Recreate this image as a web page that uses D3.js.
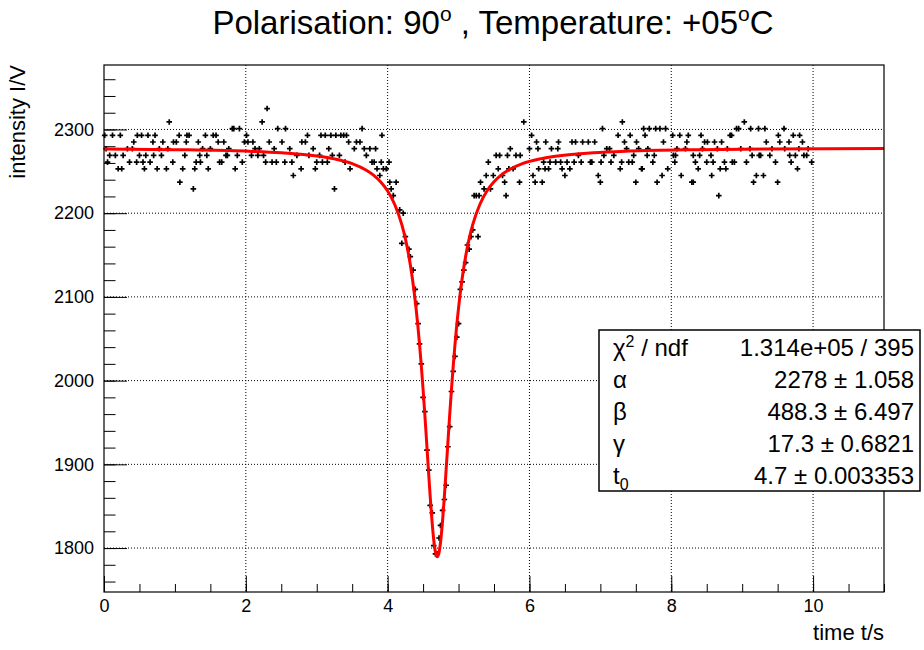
<!DOCTYPE html>
<html>
<head>
<meta charset="utf-8">
<script src="https://cdn.jsdelivr.net/npm/d3@7"></script>
<style>
body { margin: 0; background: #fff; }
svg text { font-family: "Liberation Sans", Arial, Helvetica, sans-serif; }
</style>
</head>
<body>
<script>
// ---------------------------------------------------------------------------
// Data
// ---------------------------------------------------------------------------
var xTicks = [0, 2, 4, 6, 8, 10];
var yTicks = [1800, 1900, 2000, 2100, 2200, 2300];

var statNames = ["chi", "alpha", "beta", "gamma", "t0"];
var statValues = ["1.314e+05 / 395", "2278 \u00b1 1.058", "488.3 \u00b1 6.497",
                  "17.3 \u00b1 0.6821", "4.7 \u00b1 0.003353"];

// fitted curve, sampled along the red line
var fitT = [0, 1, 2, 2.5, 3, 3.25, 3.5, 3.7, 3.8, 3.9, 4.0, 4.1, 4.2, 4.25,
            4.3, 4.35, 4.4, 4.425, 4.45, 4.475, 4.5, 4.525, 4.55, 4.575, 4.6,
            4.625, 4.65, 4.675, 4.7, 4.725, 4.75, 4.775, 4.8, 4.825, 4.85,
            4.875, 4.9, 4.925, 4.95, 4.975, 5.0, 5.05, 5.1, 5.15, 5.2, 5.3,
            5.4, 5.5, 5.6, 5.7, 5.9, 6.15, 6.4, 6.9, 7.4, 8.4, 9.4, 11];
var fitI = [2276.7, 2275.9, 2274.2, 2272.2, 2268.4, 2264.9, 2259.2, 2251.3,
            2245.5, 2237.5, 2226.5, 2210.4, 2186.3, 2169.6, 2148.4, 2121.4,
            2087.0, 2066.5, 2043.4, 2017.7, 1989.4, 1958.8, 1926.5, 1893.6,
            1861.7, 1833.0, 1809.9, 1794.9, 1789.7, 1794.9, 1809.9, 1833.0,
            1861.7, 1893.6, 1926.5, 1958.8, 1989.4, 2017.7, 2043.4, 2066.5,
            2087.0, 2121.4, 2148.4, 2169.6, 2186.3, 2210.4, 2226.5, 2237.5,
            2245.5, 2251.3, 2259.2, 2264.9, 2268.4, 2272.2, 2274.2, 2275.9,
            2276.7, 2277.3];

// measured points [time t/s, intensity I/V]
var measured = [
    // 0 - 1.65 s
    [0.92,2309],
    [0.01,2293],[0.12,2293],[0.23,2293],[0.47,2293],[0.53,2293],[0.62,2293],
    [0.72,2293],[1.06,2293],[1.17,2293],[1.20,2293],[1.43,2293],[1.54,2293],
    [1.58,2293],
    [0.42,2285],[0.69,2285],[0.83,2285],[0.98,2285],[1.02,2285],[1.16,2285],
    [1.33,2285],[1.61,2285],
    [0.03,2277],[0.33,2277],[0.40,2277],[0.78,2277],[0.90,2277],[1.39,2277],
    [1.50,2277],
    [0.08,2269],[0.16,2269],[0.27,2269],[0.50,2269],[0.59,2269],[0.70,2269],
    [0.81,2269],[1.14,2269],[1.35,2269],[1.45,2269],
    [0.05,2261],[0.36,2261],[0.46,2261],[0.55,2261],[0.65,2261],[0.97,2261],
    [1.30,2261],[1.36,2261],[1.63,2261],
    [0.20,2253],[0.25,2253],[0.57,2253],[0.75,2253],[0.88,2253],[1.11,2253],
    [1.28,2253],[1.47,2253],
    [1.07,2237],[1.26,2229],
    // 1.65 - 3.3 s
    [2.30,2325],[2.23,2309],
    [1.81,2301],[1.83,2301],[1.91,2301],[2.45,2301],[2.56,2301],
    [2.01,2293],[2.87,2293],[3.06,2293],[3.12,2293],[3.20,2293],[3.27,2293],
    [1.69,2285],[1.98,2285],[2.03,2285],[2.10,2285],[2.33,2285],[2.51,2285],
    [2.79,2285],[2.84,2285],
    [1.76,2277],[2.13,2277],[2.19,2277],[2.40,2277],[2.62,2277],[2.95,2277],
    [3.17,2277],
    [1.72,2269],[1.74,2269],[1.88,2269],[2.08,2269],[2.17,2269],[2.25,2269],
    [2.72,2269],[2.89,2269],[3.04,2269],[3.22,2269],
    [1.66,2261],[1.95,2261],[2.28,2261],[2.37,2261],[2.43,2261],[2.55,2261],
    [2.65,2261],[3.00,2261],[3.08,2261],[3.15,2261],
    [1.85,2253],[2.78,2253],[2.98,2253],
    [2.67,2245],[3.25,2229],
    // 3.3 - 4.2 s
    [3.64,2301],
    [3.34,2293],[3.38,2293],[3.42,2293],[3.92,2293],
    [3.45,2285],[3.56,2285],[3.61,2285],
    [3.53,2277],[3.67,2277],[3.75,2277],[3.83,2277],
    [3.32,2269],[3.70,2269],
    [3.40,2261],[3.78,2261],[3.81,2261],[3.91,2261],[4.02,2261],
    [3.47,2253],[3.85,2253],[3.94,2253],[3.98,2253],
    [3.89,2245],[4.03,2237],[4.12,2237],[4.05,2229],[4.08,2221],
    [4.17,2204],[4.22,2200],
    // dip
    [4.20,2164],[4.25,2172],[4.30,2157],[4.32,2148],[4.36,2132],[4.39,2109],
    [4.41,2092],[4.43,2068],[4.45,2044],[4.475,2020],[4.50,1980],[4.525,1963],
    [4.555,1917],[4.58,1893],[4.60,1851],[4.63,1842],[4.65,1803],[4.675,1793],
    [4.70,1793],[4.725,1812],[4.745,1827],[4.775,1845],[4.80,1858],
    [4.825,1875],[4.85,1921],[4.875,1945],[4.90,1987],[4.925,2011],
    [4.95,2029],[4.975,2052],[5.00,2068],[5.025,2109],[5.05,2118],
    [5.075,2132],[5.10,2141],[5.125,2162],[5.15,2157],[5.175,2172],
    [5.20,2180],[5.275,2172],
    // 5.2 - 6.7 s
    [5.92,2309],[6.03,2293],
    [6.10,2285],[6.23,2285],[6.41,2285],[6.60,2285],[6.65,2285],
    [5.73,2277],[6.00,2277],[6.12,2277],[6.31,2277],[6.40,2277],
    [5.53,2269],[5.58,2269],[5.69,2269],[5.81,2269],[5.87,2269],[6.69,2269],
    [5.42,2261],[6.20,2261],[6.29,2261],[6.37,2261],[6.44,2261],[6.53,2261],
    [6.63,2261],
    [5.56,2253],[5.71,2253],[5.77,2253],[6.13,2253],[6.22,2253],[6.27,2253],
    [6.46,2253],[6.57,2253],
    [5.39,2245],[5.49,2245],[5.62,2245],[6.05,2245],[6.50,2245],
    [5.31,2237],[5.65,2237],[5.86,2237],[6.08,2237],[6.18,2237],
    [5.36,2229],[5.45,2229],
    [5.22,2221],[5.25,2221],[5.29,2221],[5.67,2221],
    // 6.7 - 8.4 s
    [7.31,2309],
    [7.03,2301],[7.61,2301],[7.69,2301],[7.78,2301],[7.84,2301],[7.92,2301],
    [7.25,2293],[7.42,2293],[7.63,2293],[8.02,2293],[8.12,2293],[8.24,2293],
    [6.75,2285],[6.83,2285],[6.92,2285],[7.34,2285],[7.51,2285],[7.89,2285],
    [8.22,2285],
    [7.09,2277],[7.13,2277],[7.37,2277],[7.54,2277],[7.67,2277],[8.08,2277],
    [8.20,2277],
    [7.05,2269],[7.19,2269],[7.47,2269],[7.66,2269],[7.76,2269],[8.03,2269],
    [8.06,2269],[8.31,2269],
    [6.73,2261],[6.86,2261],[6.88,2261],[7.01,2261],[7.15,2261],[7.30,2261],
    [7.40,2261],[7.45,2261],[7.74,2261],[8.05,2261],[8.34,2261],
    [7.28,2253],[7.58,2253],[7.59,2253],[7.95,2253],[8.38,2253],
    [6.97,2245],[7.87,2245],[8.14,2245],
    [7.00,2237],[7.50,2237],[7.80,2237],[8.29,2237],[8.31,2237],
    // 8.4 - 10 s
    [9.03,2309],
    [8.92,2301],[8.95,2301],[9.12,2301],[9.23,2301],[9.32,2301],[9.59,2301],
    [8.42,2293],[8.83,2293],[8.85,2293],[9.51,2293],[9.72,2293],[9.81,2293],
    [8.47,2285],[8.51,2285],[8.61,2285],[8.71,2285],[9.34,2285],[9.53,2285],
    [9.66,2285],[9.85,2285],
    [8.44,2277],[8.65,2277],[8.79,2277],[8.98,2277],[9.11,2277],[9.42,2277],
    [9.60,2277],[9.80,2277],[9.93,2277],
    [8.40,2269],[8.56,2269],[9.14,2269],[9.24,2269],[9.26,2269],[9.39,2269],
    [9.67,2269],[9.75,2269],[9.87,2269],[9.91,2269],
    [8.50,2261],[8.59,2261],[8.75,2261],[8.86,2261],[8.89,2261],[9.06,2261],
    [9.47,2261],[9.69,2261],[9.98,2261],
    [8.69,2253],[8.77,2253],[9.78,2253],
    [8.57,2245],[9.20,2245],[9.30,2245],
    [9.16,2237],[9.50,2237],
    [8.67,2221]
];

// ---------------------------------------------------------------------------
// Canvas and scales (ROOT style frame)
// ---------------------------------------------------------------------------
var margin = {top: 65, right: 40, bottom: 58, left: 104},
    width = 924 - margin.left - margin.right,
    height = 650 - margin.top - margin.bottom;

var svg = d3.select("body").append("svg")
    .attr("width", 924)
    .attr("height", 650);

var g = svg.append("g")
    .attr("transform", "translate(" + margin.left + "," + margin.top + ")");

var xScale = d3.scaleLinear().domain([0, 11]).range([0, width]);
var yScale = d3.scaleLinear().domain([1747.5, 2377]).range([height, 0]);

// dotted grid at the major ticks
g.selectAll(".gx")
    .data(xTicks.slice(1))
    .enter().append("line")
    .attr("x1", function(d) { return xScale(d); })
    .attr("x2", function(d) { return xScale(d); })
    .attr("y1", 0).attr("y2", height)
    .attr("stroke", "#000").attr("stroke-width", 1)
    .attr("stroke-dasharray", "1,2");

g.selectAll(".gy")
    .data(yTicks)
    .enter().append("line")
    .attr("x1", 0).attr("x2", width)
    .attr("y1", function(d) { return yScale(d); })
    .attr("y2", function(d) { return yScale(d); })
    .attr("stroke", "#000").attr("stroke-width", 1)
    .attr("stroke-dasharray", "1,2");

// axes: ticks point into the frame
var xMinor = d3.range(0, 11.01, 0.5);
var yMinor = d3.range(1760, 2377, 20);

g.append("g")
    .attr("transform", "translate(0," + height + ")")
    .call(d3.axisBottom(xScale).tickValues(xMinor).tickSize(-8)
        .tickFormat(""))
    .call(function(a) { a.select(".domain").remove(); });

g.append("g")
    .attr("transform", "translate(0," + height + ")")
    .call(d3.axisBottom(xScale).tickValues(xTicks).tickSize(-16)
        .tickPadding(7).tickFormat(d3.format("d")))
    .call(function(a) { a.select(".domain").remove(); })
    .attr("font-family", null)
    .attr("font-size", 18)
    .selectAll("text").attr("fill", "#000");

g.append("g")
    .call(d3.axisLeft(yScale).tickValues(yMinor).tickSize(-11.5)
        .tickFormat(""))
    .call(function(a) { a.select(".domain").remove(); });

g.append("g")
    .call(d3.axisLeft(yScale).tickValues(yTicks).tickSize(-23)
        .tickPadding(10).tickFormat(d3.format("d")))
    .call(function(a) { a.select(".domain").remove(); })
    .attr("font-family", null)
    .attr("font-size", 18)
    .selectAll("text").attr("fill", "#000");

// measured points as small crosses
g.append("g").selectAll("path")
    .data(measured)
    .enter().append("path")
    .attr("transform", function(d) {
        return "translate(" + xScale(d[0]) + "," + yScale(d[1]) + ")";
    })
    .attr("d", "M-2.8,0H2.8M0,-2.8V2.8")
    .attr("stroke", "#000")
    .attr("stroke-width", 1.7)
    .attr("fill", "none");

// fitted curve
var fitLine = d3.line()
    .x(function(d, i) { return xScale(fitT[i]); })
    .y(function(d) { return yScale(d); })
    .curve(d3.curveMonotoneX);

g.append("path")
    .datum(fitI)
    .attr("d", fitLine)
    .attr("fill", "none")
    .attr("stroke", "#ff0000")
    .attr("stroke-width", 3);

// frame
g.append("rect")
    .attr("width", width).attr("height", height)
    .attr("fill", "none").attr("stroke", "#000").attr("stroke-width", 1.2);

// title with superscripts
var title = svg.append("text")
    .attr("x", 493).attr("y", 34)
    .attr("text-anchor", "middle")
    .attr("font-size", 33);
title.append("tspan").text("Polarisation: 90");
title.append("tspan").attr("dy", -13).attr("font-size", 21).text("o");
title.append("tspan").attr("dy", 13).text(" , Temperature: +05");
title.append("tspan").attr("dy", -13).attr("font-size", 21).text("o");
title.append("tspan").attr("dy", 13).text("C");

// axis titles
svg.append("text")
    .attr("x", margin.left + width).attr("y", 640)
    .attr("text-anchor", "end").attr("font-size", 22)
    .text("time t/s");

svg.append("text")
    .attr("transform", "translate(25," + margin.top + ") rotate(-90)")
    .attr("text-anchor", "end").attr("font-size", 22)
    .text("intensity I/V");

// fit statistics box
var box = svg.append("g");
box.append("rect")
    .attr("x", 599).attr("y", 330).attr("width", 321).attr("height", 161)
    .attr("fill", "#fff").attr("stroke", "#000").attr("stroke-width", 1.5);

var rowY = d3.scaleLinear().domain([0, 4]).range([356, 484]);
statNames.forEach(function(name, i) {
    var lab = box.append("text")
        .attr("x", 613).attr("y", rowY(i)).attr("font-size", 24);
    if (name === "chi") {
        lab.append("tspan").text("\u03c7");
        lab.append("tspan").attr("dy", -9).attr("font-size", 16).text("2");
        lab.append("tspan").attr("dy", 9).text(" / ndf");
    } else if (name === "t0") {
        lab.append("tspan").text("t");
        lab.append("tspan").attr("dy", 6).attr("font-size", 16).text("0");
    } else {
        lab.text({alpha: "\u03b1", beta: "\u03b2", gamma: "\u03b3"}[name]);
    }
    box.append("text")
        .attr("x", 914).attr("y", rowY(i))
        .attr("text-anchor", "end").attr("font-size", 24)
        .text(statValues[i]);
});
</script>
</body>
</html>
